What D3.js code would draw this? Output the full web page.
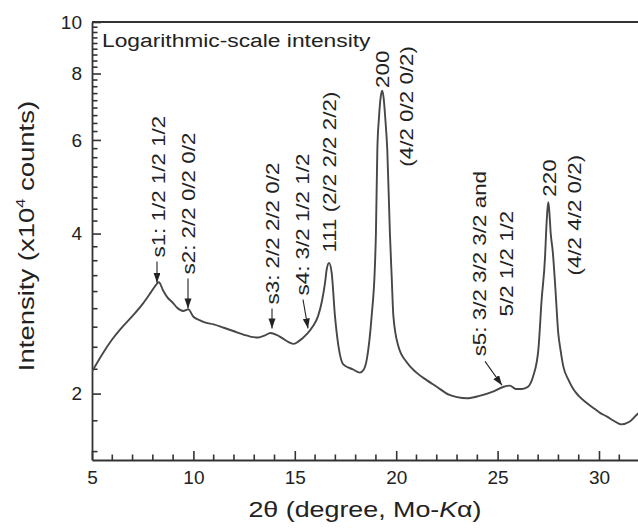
<!DOCTYPE html>
<html><head><meta charset="utf-8">
<script src="https://cdn.jsdelivr.net/npm/d3@7"></script>
<style>
html,body{margin:0;padding:0;background:#fff;}
svg{display:block;font-family:"Liberation Sans",Arial,Helvetica,sans-serif;}
</style></head><body>
<svg id="chart" width="638" height="530"></svg>
<script>
// ---- data (2θ in degrees, intensity in 10^4 counts) ----
const twoTheta = [5.0,5.5,6.0,6.5,7.0,7.5,7.9,8.1,8.3,8.5,8.7,9.0,9.2,9.5,9.75,10.0,10.3,10.6,11.0,11.5,12.0,12.5,12.8,13.2,13.5,13.8,14.1,14.4,14.7,14.95,15.2,15.6,15.9,16.15,16.35,16.49,16.57,16.69,16.82,16.98,17.15,17.39,17.88,18.21,18.4,18.55,18.79,18.95,19.0,19.07,19.15,19.23,19.31,19.38,19.46,19.56,19.69,19.78,19.86,20.1,20.52,21.0,21.5,22.0,22.6,23.0,23.5,24.1,24.8,25.3,25.6,25.9,26.2,26.5,26.76,27.01,27.17,27.34,27.39,27.45,27.5,27.55,27.62,27.72,27.85,27.99,28.1,28.24,28.5,28.73,29.0,29.4,29.8,30.05,30.4,30.7,31.1,31.5,31.9,32.1];
const intensity = [2.20,2.37,2.53,2.67,2.80,2.95,3.10,3.18,3.24,3.13,3.04,2.96,2.90,2.86,2.88,2.79,2.75,2.72,2.70,2.66,2.62,2.58,2.56,2.55,2.57,2.60,2.58,2.54,2.50,2.48,2.51,2.59,2.68,2.80,3.00,3.23,3.42,3.52,3.37,2.80,2.46,2.27,2.22,2.19,2.22,2.32,2.80,3.47,4.00,5.75,6.60,7.20,7.43,7.20,6.60,5.75,4.00,3.30,2.80,2.46,2.29,2.19,2.12,2.06,1.99,1.97,1.96,1.98,2.02,2.06,2.07,2.04,2.04,2.06,2.16,2.42,3.00,3.62,4.00,4.40,4.58,4.40,4.00,3.70,3.15,2.60,2.42,2.25,2.12,2.04,1.98,1.92,1.87,1.84,1.81,1.78,1.75,1.77,1.83,1.85];
const xTicks = [5,10,15,20,25,30];
const xTickLabels = ["5","10","15","20","25","30"];
const yTicks = [2,4,6,8,10];
const yTickLabels = ["2","4","6","8","10"];
const peakLabels = ["s1: 1/2 1/2 1/2","s2: 2/2 0/2 0/2","s3: 2/2 2/2 0/2","s4: 3/2 1/2 1/2","111 (2/2 2/2 2/2)","200","(4/2 0/2 0/2)","s5: 3/2 3/2 3/2 and","5/2 1/2 1/2","220","(4/2 4/2 0/2)"];
const peakLabelX = [8.60,10.08,14.22,15.70,17.03,19.645,20.83,24.43,25.76,27.88,29.11];
const peakLabelY = [3.605,3.35,2.942,3.059,3.684,7.516,5.343,2.35,2.793,4.692,3.335];
const arrowX1 = [8.205,9.734,13.876,15.404,24.379];
const arrowY1 = [3.544,3.293,2.892,3.006,2.299];
const arrowX2 = [8.205,9.734,13.876,15.651,25.217];
const arrowY2 = [3.232,2.892,2.652,2.652,2.073];

// ---- layout ----
const W = 638, H = 530;
const m = {left: 92, top: 22, bottom: 460};
const svg = d3.select("#chart");
const x = d3.scaleLinear().domain([5, 35]).range([m.left, m.left + 30*20.28]);
const y = d3.scaleLog().domain([1.5, 10]).range([m.bottom, m.top]);
const ink = "#222";
const axisCol = "#333";

const defs = svg.append("defs");
defs.append("clipPath").attr("id","plotclip")
  .append("rect").attr("x", m.left).attr("y", m.top).attr("width", 700).attr("height", m.bottom - m.top);
defs.append("marker").attr("id","arrow")
  .attr("markerUnits","userSpaceOnUse").attr("markerWidth",11).attr("markerHeight",8)
  .attr("refX",10).attr("refY",3.5).attr("orient","auto")
  .append("path").attr("d","M0,0 L10,3.5 L0,7 Z").attr("fill","#222");

// minor ticks (drawn inward)
const yMinor = [];
for (let b = 0; b < 10; b += 2) for (let k = 1; k <= 8; k++) { const v = b + 2*k/9; if (v > 1.5 && v < 10) yMinor.push(v); }
const xMinor = d3.range(6, 35, 1).filter(v => v % 5 !== 0);

svg.append("g").selectAll("line").data(yMinor).join("line")
  .attr("x1", m.left).attr("x2", m.left + 5.5)
  .attr("y1", d => y(d)).attr("y2", d => y(d))
  .attr("stroke", axisCol).attr("stroke-width", 1.6);
svg.append("g").selectAll("line").data(xMinor).join("line")
  .attr("x1", d => x(d)).attr("x2", d => x(d))
  .attr("y1", m.bottom).attr("y2", m.bottom - 5.5)
  .attr("stroke", axisCol).attr("stroke-width", 1.6);

const gy = svg.append("g").attr("transform",`translate(${m.left},0)`)
  .call(d3.axisLeft(y).tickValues(yTicks).tickSize(-9).tickSizeOuter(0).tickPadding(10)
    .tickFormat((d,i)=>yTickLabels[i]));
const gx = svg.append("g").attr("transform",`translate(0,${m.bottom})`)
  .call(d3.axisBottom(x).tickValues(xTicks).tickSize(-9).tickSizeOuter(0).tickPadding(11)
    .tickFormat((d,i)=>xTickLabels[i]));

[gy,gx].forEach(g=>{
  g.selectAll("path.domain").attr("stroke",axisCol).attr("stroke-width",1.8);
  g.selectAll(".tick line").attr("stroke",axisCol).attr("stroke-width",1.6);
  g.selectAll("text").attr("font-size",19).attr("fill",ink)
    .attr("font-family",'"Liberation Sans",Arial,sans-serif');
});

// top frame line
svg.append("line").attr("x1",m.left).attr("x2",W+10).attr("y1",m.top).attr("y2",m.top)
  .attr("stroke",axisCol).attr("stroke-width",1.8);

// curve
const line = d3.line().x((d,i)=>x(twoTheta[i])).y((d,i)=>y(intensity[i])).curve(d3.curveMonotoneX);
svg.append("path").datum(intensity).attr("clip-path","url(#plotclip)")
  .attr("d", line).attr("fill","none").attr("stroke","#474747").attr("stroke-width",1.9)
  .attr("stroke-linejoin","round");

// arrows
arrowX1.forEach((v,i)=>{
  svg.append("line").attr("x1",x(v)).attr("y1",y(arrowY1[i]))
    .attr("x2",x(arrowX2[i])).attr("y2",y(arrowY2[i]))
    .attr("stroke","#222").attr("stroke-width",1.1).attr("marker-end","url(#arrow)");
});

// rotated peak labels
peakLabels.forEach((t,i)=>{
  svg.append("text")
    .attr("transform",`translate(${x(peakLabelX[i])},${y(peakLabelY[i])}) rotate(-90) scale(1.28,1)`)
    .attr("font-size",17.5).attr("fill",ink).attr("text-anchor","start").text(t);
});

// inset title
svg.append("text").attr("transform",`translate(${m.left+10},47) scale(1.2,1)`)
  .attr("font-size",19).attr("fill",ink).text("Logarithmic-scale intensity");

// y title
const yt = svg.append("text").attr("transform",`translate(34,236) rotate(-90) scale(1.25,1)`)
  .attr("text-anchor","middle").attr("font-size",22).attr("fill",ink);
yt.append("tspan").text("Intensity (x10");
yt.append("tspan").attr("font-size",13).attr("dy",-9).text("4");
yt.append("tspan").attr("dy",9).text(" counts)");

// x title
const xt = svg.append("text").attr("transform",`translate(365,517) scale(1.22,1)`)
  .attr("text-anchor","middle").attr("font-size",22).attr("fill",ink);
xt.append("tspan").text("2θ (degree, Mo-");
xt.append("tspan").attr("font-style","italic").text("K");
xt.append("tspan").text("α)");
</script>
</body></html>
